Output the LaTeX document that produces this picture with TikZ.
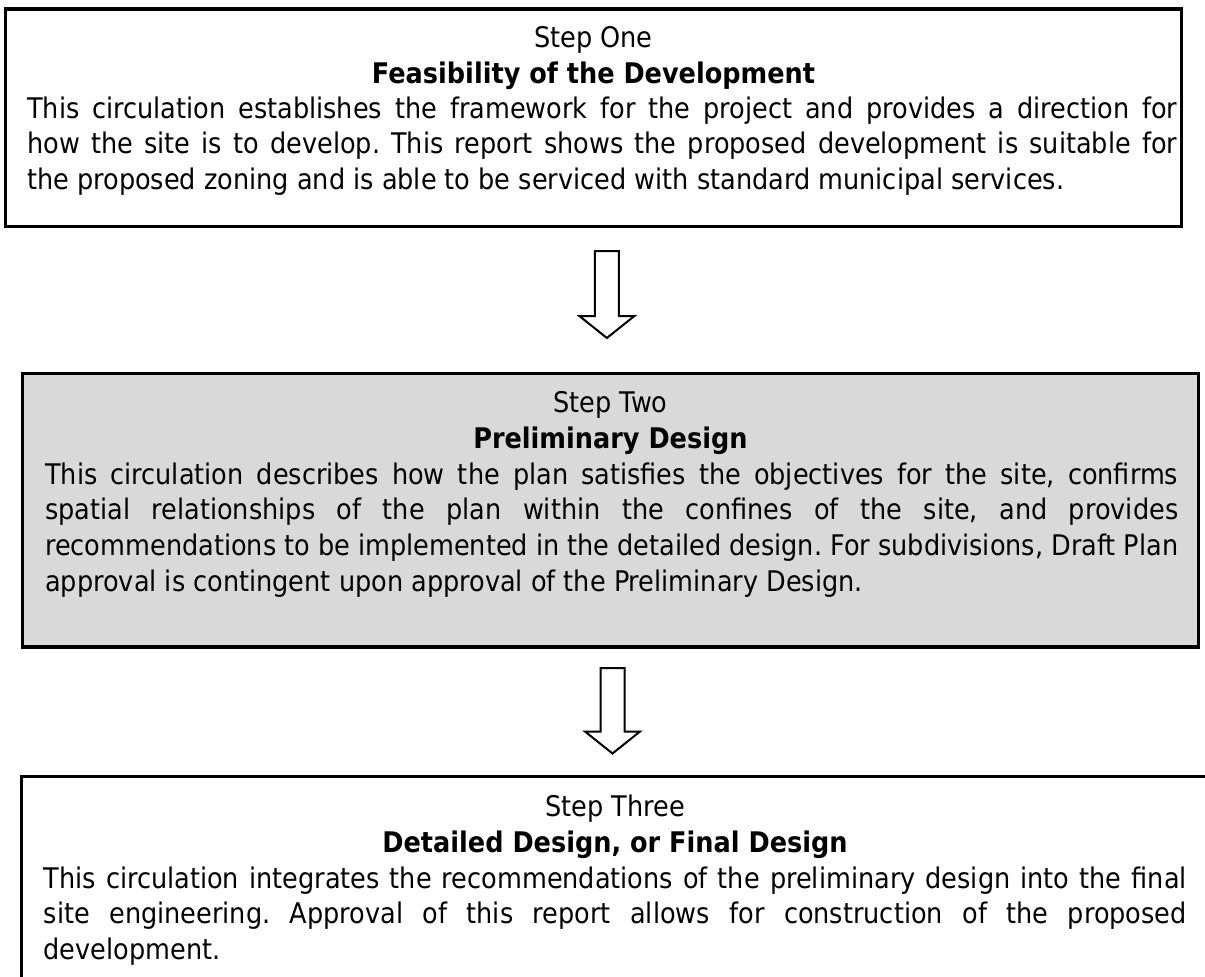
\documentclass[tikz,border=0pt]{standalone}
\usepackage{fontspec}
\setmainfont{DejaVu Sans}[FakeStretch=0.9]
\usetikzlibrary{calc}
\frenchspacing

\begin{document}
\begin{tikzpicture}[x=1pt, y=-1pt,
		step-box/.style={draw, rectangle, line width=3.2pt, inner sep=0pt, outer sep=0pt, anchor=north west},
		step-box-shaded/.style={step-box, fill=black!15},
		step-name/.style={anchor=base, inner sep=0pt, font=\fontsize{28.4}{35.7}\selectfont},
		step-title/.style={step-name, font=\fontsize{28.4}{35.7}\selectfont\bfseries},
		step-text/.style={anchor=base west, inner sep=0pt, align=justify,
		font=\fontsize{28.4}{35.7}\selectfont,
		execute at begin node={\frenchspacing\tolerance=10000\hyphenpenalty=10000}},
		flow-arrow/.style={draw, line width=2pt, fill=white, line join=miter},
		]

		\newcommand\flowarrow[2]{% #1 top of shaft, #2 tip
			\draw[flow-arrow] ($(#1)+(-12,0)$) -- ($(#1)+(12,0)$) -- ($(#2)+(12,-22)$)
			-- ($(#2)+(27.5,-22)$) -- (#2) -- ($(#2)+(-27.5,-22)$) -- ($(#2)+(-12,-22)$) -- cycle;}

		\useasboundingbox (0,0) rectangle (1205,977);
		\clip (0,0) rectangle (1205,977);

		% boxes
		\node[step-box, minimum width=1176pt, minimum height=217.5pt] (one) at (5.5,9) {};
		\node[step-box-shaded, minimum width=1175.8pt, minimum height=273.7pt] (two) at (22.5,373.3) {};
		\node[step-box, minimum width=1200pt, minimum height=230pt] (three) at (21.7,776.7) {};

		% step one
		\node[step-name]  (one-name)  at (593.5,47) {Step One};
		\node[step-title] (one-title) at (593.5,83) {Feasibility of the Development};
		\node[step-text, text width=1150pt] (one-text) at (27,118)
		{This circulation establishes the framework for the project and provides a direction for\linebreak
		how the site is to develop. This report shows the proposed development is suitable for\linebreak
		the proposed zoning and is able to be serviced with standard municipal services.};

		% step two
		\node[step-name]  (two-name)  at (610.4,412) {Step Two};
		\node[step-title] (two-title) at (610.4,448) {Preliminary Design};
		\node[step-text, text width=1133pt] (two-text) at (45,484)
		{This circulation describes how the plan satisfies the objectives for the site, confirms\linebreak
		spatial relationships of the plan within the confines of the site, and provides\linebreak
		recommendations to be implemented in the detailed design. For subdivisions, Draft Plan\linebreak
		approval is contingent upon approval of the Preliminary Design.};

		% step three
		\node[step-name]  (three-name)  at (615,816) {Step Three};
		\node[step-title] (three-title) at (615,852) {Detailed Design, or Final Design};
		\node[step-text, text width=1143pt] (three-text) at (43.5,888)
		{This circulation integrates the recommendations of the preliminary design into the final\linebreak
		site engineering. Approval of this report allows for construction of the proposed\linebreak
		development.};

		% arrows
		\coordinate (one-out) at (606.9,251);
		\coordinate (two-in)  at (606.9,338);
		\flowarrow{one-out}{two-in}

		\coordinate (two-out)  at (612.5,668);
		\coordinate (three-in) at (612.5,753.5);
		\flowarrow{two-out}{three-in}

	\end{tikzpicture}
\end{document}
